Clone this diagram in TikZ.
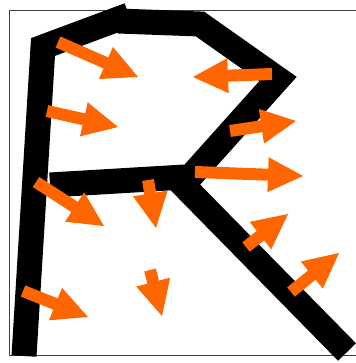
\documentclass[tikz,border=0pt]{standalone}
\usetikzlibrary{calc}
\definecolor{arrorange}{RGB}{255,102,0}
\tikzset{
  frame/.style={draw=black!75, line width=1.2pt},
  stroke/.style={draw=black, line width=25pt, line join=miter, line cap=butt},
  orarrow/.style={fill=arrorange}
}
\newcommand\blockarrow[2]{%
  \path ($(#2)!35pt!(#1)$) coordinate (bac);
  \fill[orarrow] ($(#1)!6pt!90:(#2)$) -- ($(bac)!6pt!90:(#2)$) -- ($(bac)!17.5pt!90:(#2)$) -- (#2)
     -- ($(bac)!17.5pt!-90:(#2)$) -- ($(bac)!6pt!-90:(#2)$) -- ($(#1)!6pt!-90:(#2)$) -- cycle;}
\begin{document}
\begin{tikzpicture}[x=1pt,y=-1pt]
\useasboundingbox (0,0) rectangle (355,363);
\fill[white] (0,0) rectangle (355,363);
% frame
\draw[frame] (360,10.5) -- (9.5,10.5) -- (9.5,355.8) -- (360,355.8);
% letter R
\coordinate (r1) at (24,356);
\coordinate (r2) at (43,47);
\coordinate (r3) at (129,15);
\coordinate (r4) at (118,21);
\coordinate (r5) at (200,24);
\coordinate (r6) at (278,79);
\coordinate (r7) at (183,185);
\coordinate (r8) at (347,352);
\coordinate (b1) at (50,185);
\coordinate (b2) at (184.5,177);
\draw[stroke] (r1) -- (r2) -- (r3);
\draw[stroke] (r4) -- (r5) -- (r6) -- (r7) -- (r8);
\draw[stroke] (b1) -- (b2);
% arrows
\coordinate (t1) at (58,42);   \coordinate (h1) at (138,77);
\coordinate (t2) at (47,111);  \coordinate (h2) at (118,127);
\coordinate (t3) at (272,74);  \coordinate (h3) at (193,77);
\coordinate (t4) at (230,131); \coordinate (h4) at (296,121);
\coordinate (t5) at (195,172); \coordinate (h5) at (303,176);
\coordinate (t6) at (36,182);  \coordinate (h6) at (104,226);
\coordinate (t7) at (148,180); \coordinate (h7) at (156,228);
\coordinate (t8) at (246,247); \coordinate (h8) at (288,214);
\coordinate (t9) at (291,292); \coordinate (h9) at (339,253);
\coordinate (t10) at (23,291); \coordinate (h10) at (88,317);
\coordinate (t11) at (150,270);\coordinate (h11) at (162,316);
\blockarrow{t1}{h1}
\blockarrow{t2}{h2}
\blockarrow{t3}{h3}
\blockarrow{t4}{h4}
\blockarrow{t5}{h5}
\blockarrow{t6}{h6}
\blockarrow{t7}{h7}
\blockarrow{t8}{h8}
\blockarrow{t9}{h9}
\blockarrow{t10}{h10}
\blockarrow{t11}{h11}
\end{tikzpicture}
\end{document}
